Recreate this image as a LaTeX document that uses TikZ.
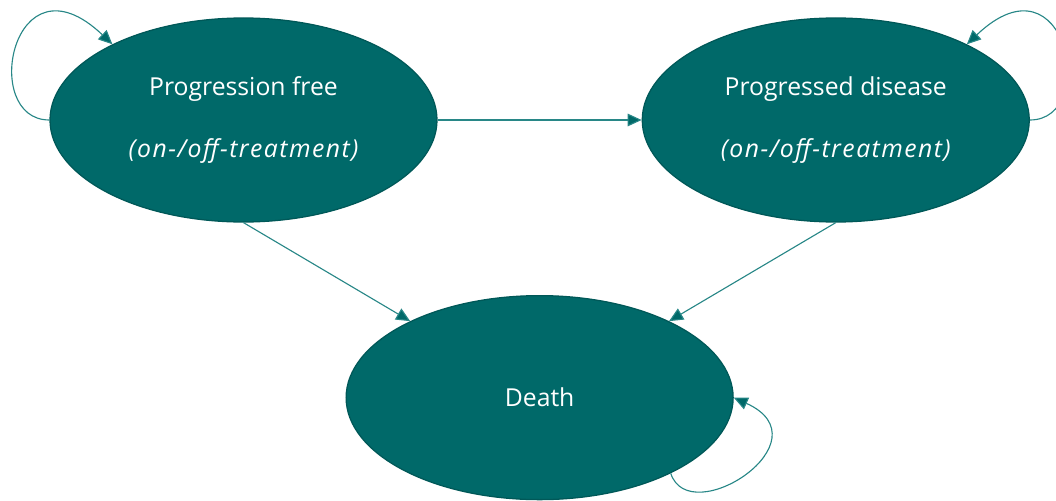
\documentclass[tikz,border=0pt]{standalone}
\usepackage{fontspec}
\setmainfont{Open Sans}
\newfontfamily\trfont[LetterSpace=6]{Open Sans}
\usetikzlibrary{positioning,calc,shapes.geometric,arrows.meta}
\definecolor{teal1}{RGB}{0,105,105}
\definecolor{teal2}{RGB}{0,88,88}
\definecolor{teal3}{RGB}{40,135,135}
\newcommand{\treat}{{\trfont\itshape (on-/off-treatment)}}
\tikzset{
  st/.style={ellipse, minimum width=9.675cm, minimum height=5.1cm, inner sep=0pt, align=center, text centered, draw=teal2, line width=0.9pt, fill=teal1, text=white, font=\fontsize{17.6}{20}\selectfont},
  tr/.style={draw=teal3, line width=0.8pt, -{Triangle[length=10pt,width=9pt,fill=teal1]}},
  node distance=5.1cm
}
\begin{document}
\begin{tikzpicture}
	\node[st] (pf) {Progression free\\[24pt]\treat};
	\node[st, right=of pf] (pd) {Progressed disease\\[24pt]\treat};
	\path (pf) -- (pd) coordinate[midway] (mid);
	\node[st, below=4.375cm of mid] (death) {Death};
	\useasboundingbox ($(pf.center)+(-6.0875,3)$) rectangle +(26.4,-12.475);
	%
	\draw[tr] (pf) -- (pd);
	\draw[tr] (pf.south) -- (death);
	\draw[tr] (pd.south) -- (death);
	% self loops
	\draw[tr] (pf.180) .. controls +(-1.75,0) and +(-2.5,2.375) .. (pf.150);
	\draw[tr] (pd.0) .. controls +(1.75,0) and +(2.5,2.375) .. (pd.30);
	\draw[tr] (death.-30) .. controls +(0.475,-1.45) and +(2.375,-1.075) .. (death.0);
\end{tikzpicture}
\end{document}
